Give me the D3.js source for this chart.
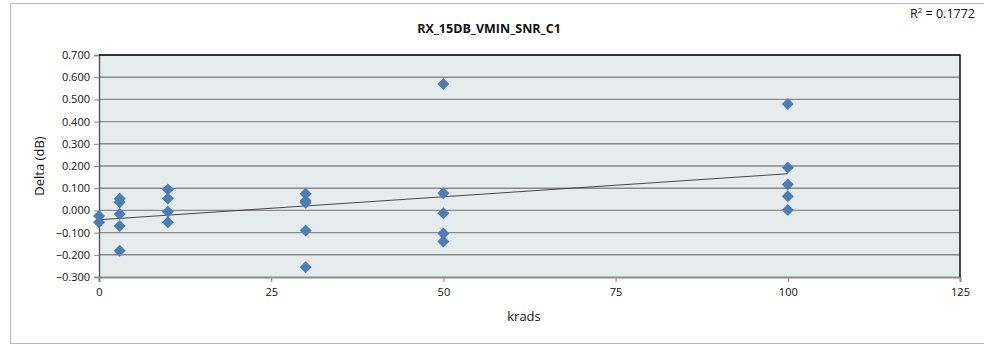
<!DOCTYPE html>
<html>
<head>
<meta charset="utf-8">
<script src="https://cdn.jsdelivr.net/npm/d3@7"></script>
<style>
  body { margin: 0; background: #fff; }
  text { font-family: "Open Sans", "Noto Sans", sans-serif; fill: #111; }
</style>
</head>
<body>
<script>
// data
const krads  = [0, 0, 3, 3, 3, 3, 3, 10, 10, 10, 10, 30, 30, 30, 30, 30, 50, 50, 50, 50, 50, 100, 100, 100, 100, 100]
const deltas = [-0.025, -0.053, 0.052, 0.037, -0.016, -0.070, -0.182, 0.094, 0.054, -0.006, -0.053,
                0.075, 0.043, 0.034, -0.090, -0.256, 0.569, 0.077, -0.013, -0.104, -0.140,
                0.479, 0.193, 0.117, 0.064, 0.002]
const yTicks = [-0.3, -0.2, -0.1, 0, 0.1, 0.2, 0.3, 0.4, 0.5, 0.6, 0.7]
const xTicks = [0, 25, 50, 75, 100, 125]
const title = 'RX_15DB_VMIN_SNR_C1'
const r2Label = '0.1772'

const W = 984, H = 346
const margin = {top: 55, right: 24, bottom: 69, left: 99}
, width = W - margin.left - margin.right
, height = H - margin.top - margin.bottom

const svg = d3.select('body').append('svg')
    .attr('width', W)
    .attr('height', H)

// outer chart frame
svg.append('rect')
    .attr('x', 10.5).attr('y', 3.5)
    .attr('width', 990).attr('height', 340)
    .attr('fill', '#fff')
    .attr('stroke', '#b8b8b8')

const xScale = d3.scaleLinear().domain([0, 125]).range([margin.left, margin.left + width])
const yScale = d3.scaleLinear().domain([-0.3, 0.7]).range([margin.top + height, margin.top])

// plot background
svg.append('rect')
    .attr('x', xScale(0)).attr('y', yScale(0.7))
    .attr('width', xScale(125) - xScale(0))
    .attr('height', yScale(-0.3) - yScale(0.7))
    .attr('fill', '#e6ecec')

// gridlines
svg.append('g').selectAll('line').data(yTicks.slice(1))
    .enter().append('line')
    .attr('x1', xScale(0)).attr('x2', xScale(125))
    .attr('y1', d => yScale(d)).attr('y2', d => yScale(d))
    .attr('stroke', '#8a8a8a')
    .attr('stroke-width', 1.4)

// axes
const yAxis = svg.append('g')
    .attr('transform', 'translate(' + xScale(0) + ',0)')
    .call(d3.axisLeft(yScale).tickValues(yTicks).tickFormat(d3.format('.3f')).tickSize(5).tickPadding(4))
yAxis.select('.domain').attr('stroke', '#555').attr('stroke-width', 1.4)
yAxis.selectAll('.tick line').attr('stroke', '#888')
yAxis.selectAll('text').style('font-size', '11px').attr('fill', '#111')

const xAxis = svg.append('g')
    .attr('transform', 'translate(0,' + yScale(-0.3) + ')')
    .call(d3.axisBottom(xScale).tickValues(xTicks).tickSize(5).tickPadding(6))
xAxis.select('.domain').attr('stroke', '#8a8a8a').attr('stroke-width', 2)
xAxis.selectAll('.tick line').attr('stroke', '#888')
xAxis.selectAll('text').style('font-size', '11px').attr('fill', '#111')

// top and right frame of the plot area
svg.append('path')
    .attr('d', 'M' + xScale(0) + ',' + yScale(0.7) + 'H' + xScale(125) + 'V' + yScale(-0.3))
    .attr('fill', 'none')
    .attr('stroke', '#111')
    .attr('stroke-width', 1.5)

// linear trendline from least squares fit
const mx = d3.mean(krads), my = d3.mean(deltas)
const sxy = d3.sum(krads, (x, i) => (x - mx) * (deltas[i] - my))
const sxx = d3.sum(krads, x => (x - mx) * (x - mx))
const slope = sxy / sxx, icpt = my - slope * mx
const xr = d3.extent(krads)
svg.append('line')
    .attr('x1', xScale(xr[0])).attr('y1', yScale(icpt + slope * xr[0]))
    .attr('x2', xScale(xr[1])).attr('y2', yScale(icpt + slope * xr[1]))
    .attr('stroke', '#333')
    .attr('stroke-width', 0.9)

// diamond markers
svg.selectAll('.dot').data(krads)
    .enter().append('path')
    .attr('class', 'dot')
    .attr('transform', (d, i) => 'translate(' + xScale(d) + ',' + yScale(deltas[i]) + ')')
    .attr('d', 'M0,-6L6,0L0,6L-6,0Z')
    .attr('fill', '#4a7ebb')

// titles
svg.append('text')
    .attr('x', 489).attr('y', 33)
    .attr('text-anchor', 'middle')
    .style('font-size', '12.5px')
    .style('font-weight', 'bold')
    .text(title)

const r2 = svg.append('text')
    .attr('x', 975).attr('y', 18)
    .attr('text-anchor', 'end')
    .style('font-size', '12.5px')
r2.append('tspan').text('R')
r2.append('tspan').attr('dy', -5).style('font-size', '8px').text('2')
r2.append('tspan').attr('dy', 5).text(' = ' + r2Label)

svg.append('text')
    .attr('transform', 'translate(44,' + ((yScale(0.7) + yScale(-0.3)) / 2) + ')rotate(-90)')
    .attr('text-anchor', 'middle')
    .style('font-size', '13px')
    .text('Delta (dB)')

svg.append('text')
    .attr('x', 524).attr('y', 321)
    .attr('text-anchor', 'middle')
    .style('font-size', '13px')
    .text('krads')
</script>
</body>
</html>
